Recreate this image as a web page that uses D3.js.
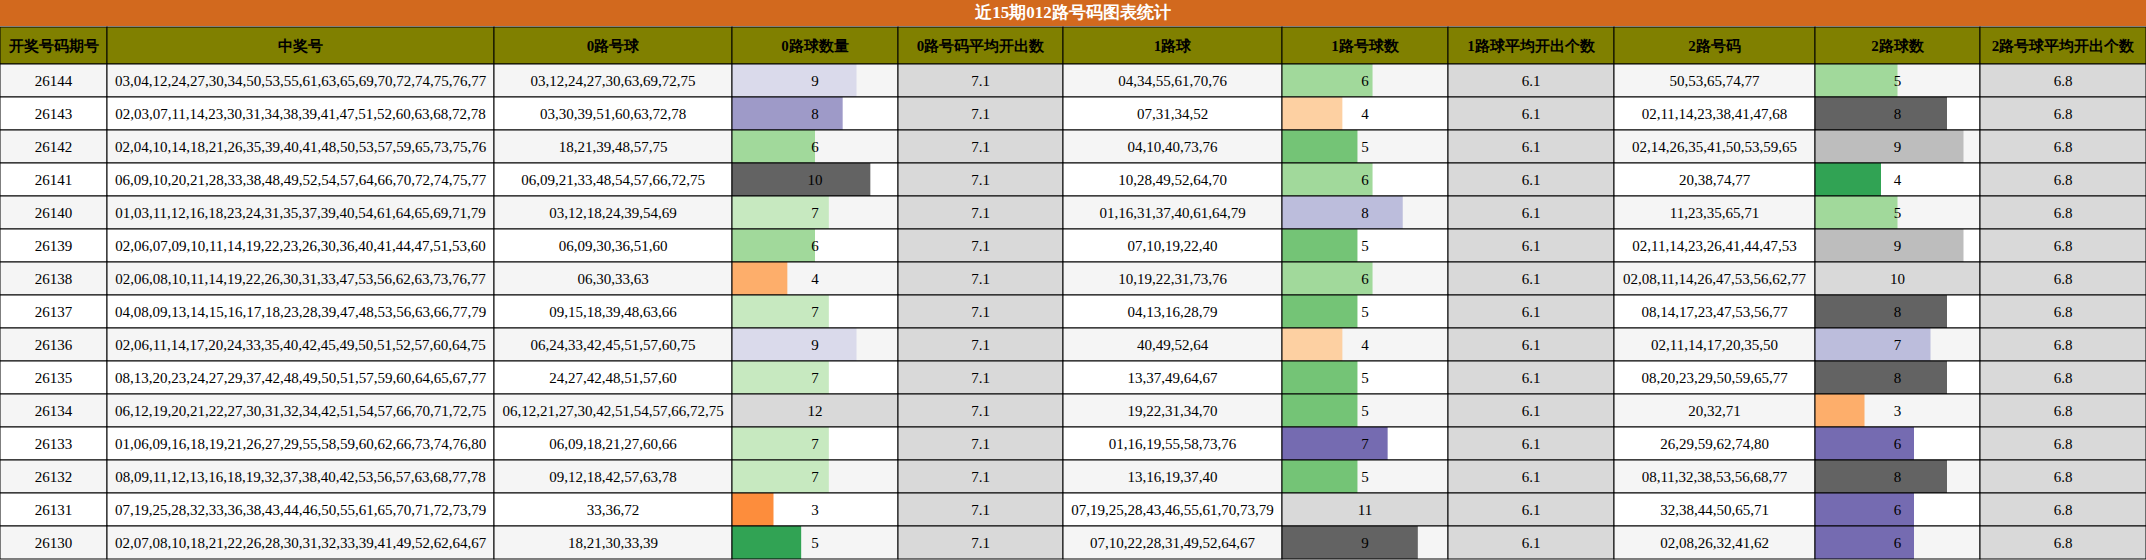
<!DOCTYPE html><html><head><meta charset="utf-8"><script src="https://cdn.jsdelivr.net/npm/d3@7"></script>
<style>body{margin:0;background:#fff}</style></head><body><svg id="c" width="2146" height="560"></svg><script>
const title="近15期012路号码图表统计";
const headers=["开奖号码期号","中奖号","0路号球","0路球数量","0路号码平均开出数","1路球","1路号球数","1路球平均开出个数","2路号码","2路球数","2路号球平均开出个数"];
const periods=["26144","26143","26142","26141","26140","26139","26138","26137","26136","26135","26134","26133","26132","26131","26130"];
const winning=["03,04,12,24,27,30,34,50,53,55,61,63,65,69,70,72,74,75,76,77","02,03,07,11,14,23,30,31,34,38,39,41,47,51,52,60,63,68,72,78","02,04,10,14,18,21,26,35,39,40,41,48,50,53,57,59,65,73,75,76","06,09,10,20,21,28,33,38,48,49,52,54,57,64,66,70,72,74,75,77","01,03,11,12,16,18,23,24,31,35,37,39,40,54,61,64,65,69,71,79","02,06,07,09,10,11,14,19,22,23,26,30,36,40,41,44,47,51,53,60","02,06,08,10,11,14,19,22,26,30,31,33,47,53,56,62,63,73,76,77","04,08,09,13,14,15,16,17,18,23,28,39,47,48,53,56,63,66,77,79","02,06,11,14,17,20,24,33,35,40,42,45,49,50,51,52,57,60,64,75","08,13,20,23,24,27,29,37,42,48,49,50,51,57,59,60,64,65,67,77","06,12,19,20,21,22,27,30,31,32,34,42,51,54,57,66,70,71,72,75","01,06,09,16,18,19,21,26,27,29,55,58,59,60,62,66,73,74,76,80","08,09,11,12,13,16,18,19,32,37,38,40,42,53,56,57,63,68,77,78","07,19,25,28,32,33,36,38,43,44,46,50,55,61,65,70,71,72,73,79","02,07,08,10,18,21,22,26,28,30,31,32,33,39,41,49,52,62,64,67"];
const r0=["03,12,24,27,30,63,69,72,75","03,30,39,51,60,63,72,78","18,21,39,48,57,75","06,09,21,33,48,54,57,66,72,75","03,12,18,24,39,54,69","06,09,30,36,51,60","06,30,33,63","09,15,18,39,48,63,66","06,24,33,42,45,51,57,60,75","24,27,42,48,51,57,60","06,12,21,27,30,42,51,54,57,66,72,75","06,09,18,21,27,60,66","09,12,18,42,57,63,78","33,36,72","18,21,30,33,39"];
const c0=[9,8,6,10,7,6,4,7,9,7,12,7,7,3,5];
const r1=["04,34,55,61,70,76","07,31,34,52","04,10,40,73,76","10,28,49,52,64,70","01,16,31,37,40,61,64,79","07,10,19,22,40","10,19,22,31,73,76","04,13,16,28,79","40,49,52,64","13,37,49,64,67","19,22,31,34,70","01,16,19,55,58,73,76","13,16,19,37,40","07,19,25,28,43,46,55,61,70,73,79","07,10,22,28,31,49,52,64,67"];
const c1=[6,4,5,6,8,5,6,5,4,5,5,7,5,11,9];
const r2=["50,53,65,74,77","02,11,14,23,38,41,47,68","02,14,26,35,41,50,53,59,65","20,38,74,77","11,23,35,65,71","02,11,14,23,26,41,44,47,53","02,08,11,14,26,47,53,56,62,77","08,14,17,23,47,53,56,77","02,11,14,17,20,35,50","08,20,23,29,50,59,65,77","20,32,71","26,29,59,62,74,80","08,11,32,38,53,56,68,77","32,38,44,50,65,71","02,08,26,32,41,62"];
const c2=[5,8,9,4,5,9,10,8,7,8,3,6,8,6,6];
const avg=["7.1","6.1","6.8"];
const col0Vals=[3,4,5,6,7,8,9,10,12], col0Cols=["#fd8d3c","#fdae6b","#31a354","#a1d99b","#c7e9c0","#9e9ac8","#dadaeb","#636363","#d9d9d9"];
const col1Vals=[4,5,6,7,8,9,11], col1Cols=["#fdd0a2","#74c476","#a1d99b","#756bb1","#bcbddc","#636363","#d9d9d9"];
const col2Vals=[3,4,5,6,7,8,9,10], col2Cols=["#fdae6b","#31a354","#a1d99b","#756bb1","#bcbddc","#636363","#bdbdbd","#d9d9d9"];

const edges=[0,107,494,732,898,1063,1282,1448,1614,1815,1980,2146];
const svg=d3.select("#c");
const F="'Liberation Serif','Times New Roman',serif";
const titleH=26, headTop=27, headH=37, rowTop=64, rowH=33;
svg.append("rect").attr("x",0).attr("y",0).attr("width",2146).attr("height",titleH).attr("fill","#d2691e");
svg.append("text").attr("x",1073).attr("y",18).attr("text-anchor","middle").attr("fill","#fff").attr("font-family",F).attr("font-weight","bold").attr("font-size",17).text(title);
const y=d3.scaleBand().domain(periods).range([rowTop,rowTop+rowH*periods.length]);
headers.forEach((h,i)=>{
 svg.append("rect").attr("x",edges[i]).attr("y",headTop).attr("width",edges[i+1]-edges[i]).attr("height",headH).attr("fill","#808000").attr("stroke","#000");
 svg.append("text").attr("x",(edges[i]+edges[i+1])/2).attr("y",headTop+headH/2+5).attr("text-anchor","middle").attr("font-family",F).attr("font-weight","bold").attr("font-size",15).text(h);
});
const cols=[
 {t:periods},{t:winning},{t:r0},{b:c0,vals:col0Vals,cs:col0Cols},{a:avg[0]},
 {t:r1},{b:c1,vals:col1Vals,cs:col1Cols},{a:avg[1]},{t:r2},{b:c2,vals:col2Vals,cs:col2Cols},{a:avg[2]}];
periods.forEach((p,r)=>{
 const yy=y(p);
 cols.forEach((c,i)=>{
  const x0=edges[i],w=edges[i+1]-edges[i];
  const g=svg.append("g");
  g.append("rect").attr("x",x0).attr("y",yy).attr("width",w).attr("height",rowH).attr("fill",r%2==0?"#f5f5f5":"#fff");
  let txt;
  if(c.t){txt=c.t[r];}
  else if(c.b){
   const xs=d3.scaleLinear().domain([0,d3.max(c.b)]).range([0,w]);
   const cs=d3.scaleOrdinal().domain(c.vals).range(c.cs);
   g.append("rect").attr("x",x0).attr("y",yy).attr("width",xs(c.b[r])).attr("height",rowH).attr("fill",cs(c.b[r]));
   txt=c.b[r];
  } else {
   g.append("rect").attr("x",x0).attr("y",yy).attr("width",w).attr("height",rowH).attr("fill","#d9d9d9");
   txt=c.a;
  }
  g.append("rect").attr("x",x0).attr("y",yy).attr("width",w).attr("height",rowH).attr("fill","none").attr("stroke","#000");
  g.append("text").attr("x",x0+w/2).attr("y",yy+rowH/2+5).attr("text-anchor","middle").attr("font-family",F).attr("font-size",15).text(txt);
 });
});
</script></body></html>
